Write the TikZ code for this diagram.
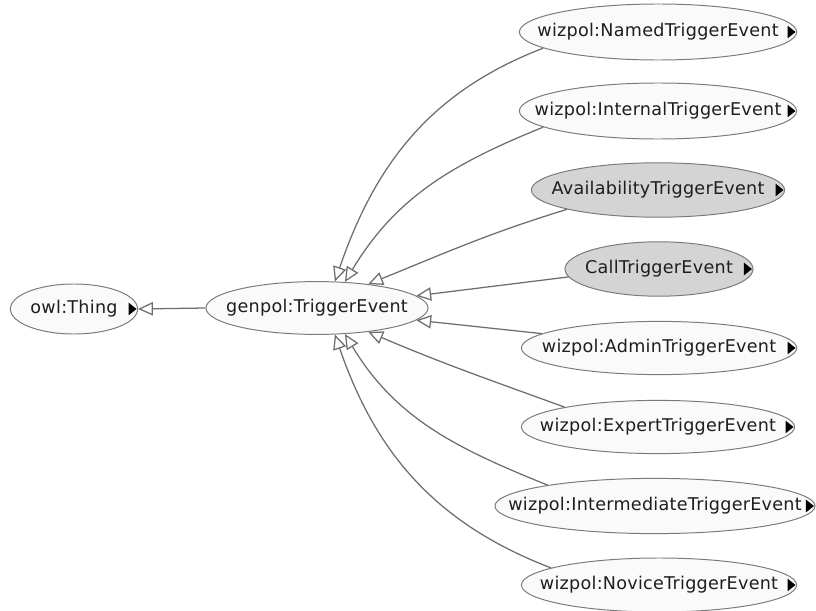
\documentclass[tikz,border=0pt]{standalone}
\usepackage{fontspec}
\setmainfont[LetterSpace=1.5]{DejaVu Sans}
\usetikzlibrary{shapes.geometric,arrows.meta}
\definecolor{linegray}{HTML}{7A7A7A}
\definecolor{edgegray}{HTML}{6E6E6E}
\definecolor{nodewhite}{HTML}{FAFAFA}
\definecolor{nodegray}{HTML}{D4D4D4}
\definecolor{textdark}{HTML}{1E1E1E}
\newcommand\cname[1]{\makebox[0pt]{#1}}
\newcommand\moretri[1]{\fill[black] ([xshift=-0.04cm]#1.east) -- ++(-0.2cm,0.16cm) -- ++(0,-0.32cm) -- cycle;}
\begin{document}
\begin{tikzpicture}[x=0.025cm,y=0.025cm,
  cls/.style={ellipse,draw=linegray,line width=0.7pt,fill=nodewhite,text=textdark,inner sep=0pt,
    font=\fontsize{12.5}{15}\selectfont,minimum height=1.36cm},
  anon/.style={cls,fill=nodegray},
  isa/.style={draw=edgegray,line width=0.9pt,-{Triangle[length=10.5pt,width=9.5pt,fill=white]}}]
\useasboundingbox (0,0) rectangle (816,-611);

\node[cls,minimum width=3.18cm,minimum height=1.25cm] (thing) at (74,-309) {\cname{owl:Thing}};
\node[cls,minimum width=5.55cm,minimum height=1.32cm] (genpol) at (317,-308) {\cname{genpol:TriggerEvent}};

\node[cls,minimum width=6.93cm,minimum height=1.4cm] (named) at (658,-32) {\cname{wizpol:NamedTriggerEvent}};
\node[cls,minimum width=6.93cm,minimum height=1.4cm] (internal) at (658,-111) {\cname{wizpol:InternalTriggerEvent}};
\node[anon,minimum width=6.33cm] (avail) at (658,-190) {\cname{AvailabilityTriggerEvent}};
\node[anon,minimum width=4.7cm] (call) at (659,-269) {\cname{CallTriggerEvent}};
\node[cls,minimum width=6.88cm,minimum height=1.33cm] (admin) at (659,-348) {\cname{wizpol:AdminTriggerEvent}};
\node[cls,minimum width=6.83cm,minimum height=1.33cm] (expert) at (658,-427) {\cname{wizpol:ExpertTriggerEvent}};
\node[cls,minimum width=8cm,minimum height=1.38cm] (inter) at (655,-506) {\cname{wizpol:IntermediateTriggerEvent}};
\node[cls,minimum width=6.88cm,minimum height=1.35cm] (novice) at (659,-585) {\cname{wizpol:NoviceTriggerEvent}};

\foreach \n in {thing,named,internal,avail,call,admin,expert,inter,novice}
  \moretri{\n};

\draw[isa] (genpol.west) -- (thing.east);
\draw[isa] (named.188) to[out=201,in=71] (genpol.56);
\draw[isa] (internal.188) to[out=202,in=59] (genpol.43);
\draw[isa] (avail.192) to[out=197,in=22] (genpol.25);
\draw[isa] (call.185) -- (genpol.7);
\draw[isa] (admin.173) -- (genpol.-7);
\draw[isa] (expert.168) to[out=160,in=-23] (genpol.-25);
\draw[isa] (inter.169) to[out=158,in=-59] (genpol.-43);
\draw[isa] (novice.171) to[out=159,in=-71] (genpol.-56);
\end{tikzpicture}
\end{document}
